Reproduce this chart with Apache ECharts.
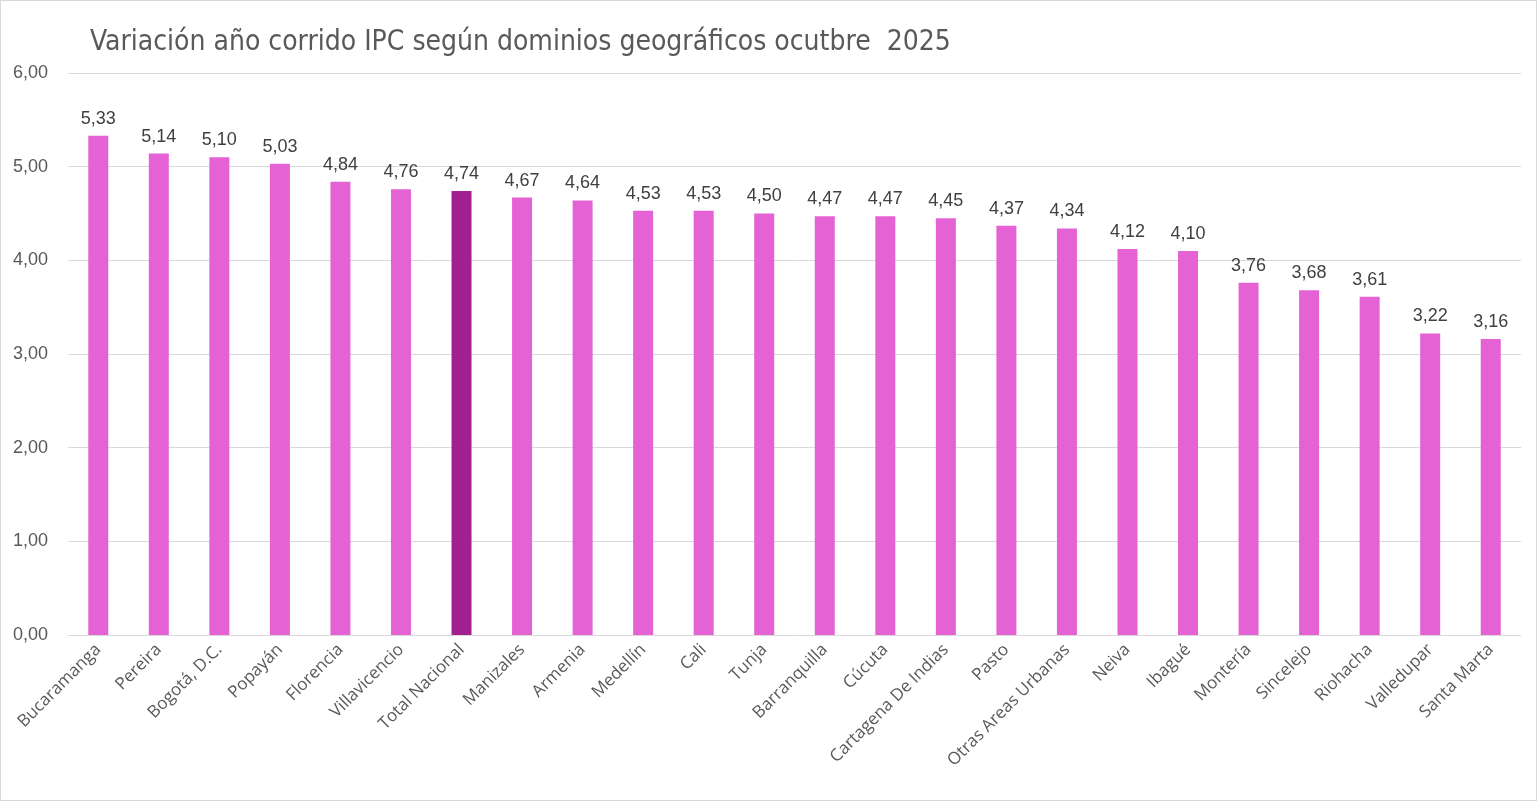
<!DOCTYPE html>
<html><head><meta charset="utf-8">
<script src="https://cdn.jsdelivr.net/npm/echarts@6/dist/echarts.min.js"></script>
<style>html,body{margin:0;padding:0;background:#fff}#c{width:1535px;height:799px;border:1px solid #d9d9d9}</style>
</head><body><div id="c"></div>
<script>
const categories = ["Bucaramanga","Pereira","Bogotá, D.C.","Popayán","Florencia","Villavicencio","Total Nacional","Manizales","Armenia","Medellín","Cali","Tunja","Barranquilla","Cúcuta","Cartagena De Indias","Pasto","Otras Areas Urbanas","Neiva","Ibagué","Montería","Sincelejo","Riohacha","Valledupar","Santa Marta"];
const values = [5.33,5.14,5.10,5.03,4.84,4.76,4.74,4.67,4.64,4.53,4.53,4.50,4.47,4.47,4.45,4.37,4.34,4.12,4.10,3.76,3.68,3.61,3.22,3.16];
const highlight = "Total Nacional";
const fmt = v => v.toFixed(2).replace('.', ',');
const chart = echarts.init(document.getElementById('c'));
chart.setOption({
  animation:false,
  title:{text:"Variación año corrido IPC según dominios geográficos ocutbre  2025",left:84,top:23,
    textStyle:{fontFamily:"Liberation Sans Narrow, DejaVu Sans Condensed, sans-serif",fontSize:28,fontWeight:'normal',color:'#595959'}},
  grid:{left:67,right:15,top:72,bottom:165},
  xAxis:{type:'category',data:categories,
    axisLine:{lineStyle:{color:'#d9d9d9'}},axisTick:{show:false},
    axisLabel:{rotate:45,interval:0,fontSize:17,color:'#595959',fontFamily:'Open Sans, sans-serif',margin:12}},
  yAxis:{type:'value',min:0,max:6,interval:1,
    axisLabel:{formatter:v=>fmt(v),fontSize:18,color:'#595959',fontFamily:'Liberation Sans, sans-serif',margin:20},
    splitLine:{lineStyle:{color:'#d9d9d9'}}},
  series:[{type:'bar',barWidth:20,
    data:values.map((v,i)=>({value:v,itemStyle:{color:categories[i]===highlight?'#A0208F':'#E462D3'}})),
    label:{show:true,position:'top',distance:8,formatter:p=>fmt(p.value),fontSize:18,color:'#404040',fontFamily:'Liberation Sans, sans-serif'}}]
});
</script></body></html>
